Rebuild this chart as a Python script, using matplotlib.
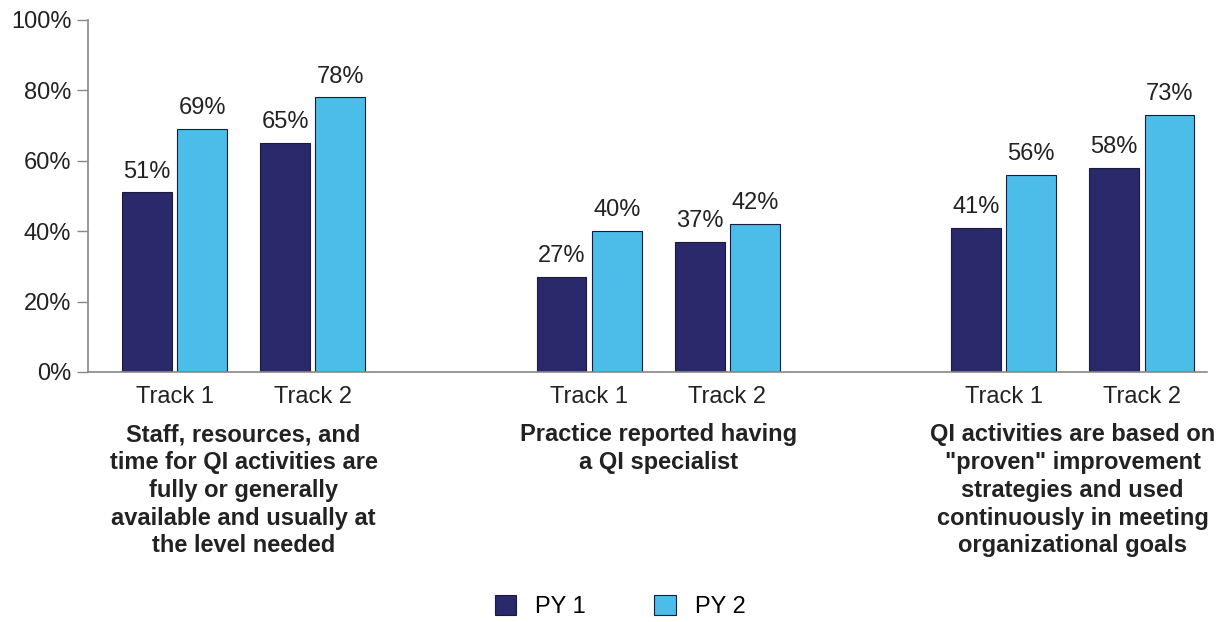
import numpy as np
import matplotlib.pyplot as plt

plt.rcParams['font.family'] = ['Liberation Sans', 'DejaVu Sans']

groups = [
    "Staff, resources, and\ntime for QI activities are\nfully or generally\navailable and usually at\nthe level needed",
    "Practice reported having\na QI specialist",
    "QI activities are based on\n\"proven\" improvement\nstrategies and used\ncontinuously in meeting\norganizational goals",
]
tracks = ["Track 1", "Track 2"]
py1 = [51, 65, 27, 37, 41, 58]
py2 = [69, 78, 40, 42, 56, 73]
yticks = [0, 20, 40, 60, 80, 100]

dark = '#29296b'
light = '#4bbde8'
textc = '#222222'

fig = plt.figure(figsize=(12.16, 6.22), dpi=100)
ax = fig.add_axes([0.0724, 0.402, 0.92, 0.566])

centers = np.array([0, 1, 3, 4, 6, 7], dtype=float)
w = 0.36
off = 0.2
b1 = ax.bar(centers - off, py1, w, color=dark, edgecolor='#1a1a3a', linewidth=0.8, label='PY 1')
b2 = ax.bar(centers + off, py2, w, color=light, edgecolor='#1a1a3a', linewidth=0.8, label='PY 2')

for bars, vals in [(b1, py1), (b2, py2)]:
    for b, v in zip(bars, vals):
        ax.annotate(f"{v}%", (b.get_x() + b.get_width() / 2, v), xytext=(0, 7),
                    textcoords='offset points', ha='center', va='bottom',
                    fontsize=17, color=textc)

ax.set_xlim(-0.626, 7.47)
ax.set_ylim(0, 100)
ax.set_yticks(yticks)
ax.set_yticklabels([f"{t}%" for t in yticks], fontsize=17, color=textc)
ax.set_xticks(centers)
ax.set_xticklabels(tracks * 3, fontsize=17, color=textc)
ax.tick_params(axis='x', length=0, pad=10)
ax.tick_params(axis='y', length=8, width=1, color='#888888', pad=4)
for s in ['top', 'right']:
    ax.spines[s].set_visible(False)
for s in ['left', 'bottom']:
    ax.spines[s].set_color('#888888')
    ax.spines[s].set_linewidth(1.2)

for i, g in enumerate(groups):
    ax.text(centers[2 * i] + 0.5, -14.5, g, ha='center', va='top', fontsize=17,
            fontweight='bold', color=textc, linespacing=1.27,
            transform=ax.transData, clip_on=False)

fig.legend(handles=[b1, b2], labels=['PY 1', 'PY 2'], loc='lower center',
           bbox_to_anchor=(0.51, -0.028), ncol=2, frameon=False, fontsize=17,
           handlelength=0.9, handleheight=0.9, columnspacing=2.9, handletextpad=0.8)

fig.savefig('out.png', dpi=100)
